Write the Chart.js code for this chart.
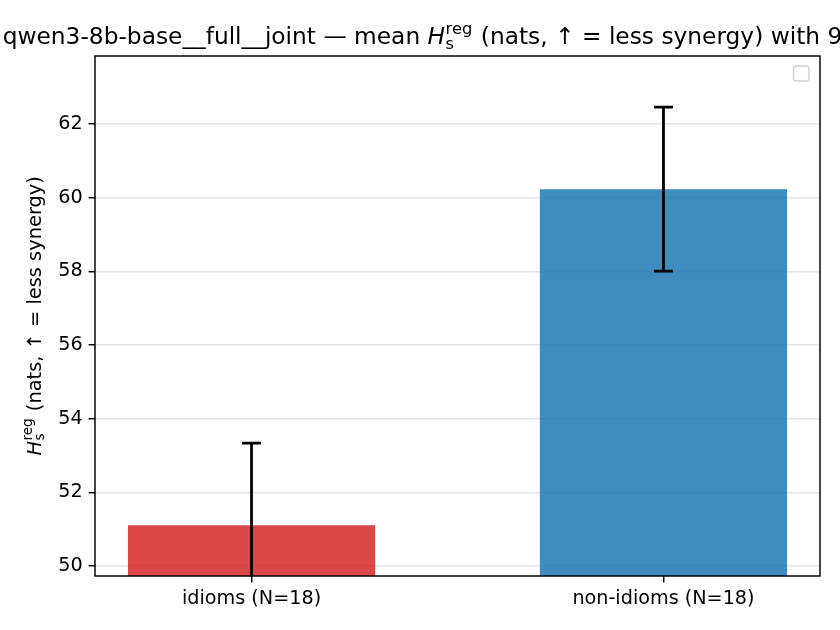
<!DOCTYPE html>
<html>
<head>
<meta charset="utf-8">
<script src="https://cdn.jsdelivr.net/npm/chart.js@4"></script>
<style>
  html, body { margin: 0; padding: 0; background: #fff; }
  #wrap { width: 840px; height: 630px; position: relative; }
</style>
</head>
<body>
<div id="wrap"><canvas id="c"></canvas></div>
<script>
const categories = ['idioms (N=18)', 'non-idioms (N=18)'];
const means = [51.11, 60.235];
const ciHalf = [2.23, 2.225];
const barColors = ['rgba(214,39,40,0.85)', 'rgba(31,119,180,0.85)'];
const yTicks = [50, 52, 54, 56, 58, 60, 62];
const yMin = 49.73, yMax = 63.85;
const xMin = -0.38, xMax = 1.38;

const FONT = 'DejaVu Sans';

function drawMathLabel(ctx, x, y, size, parts, align) {
  const [pre, post] = parts;
  const small = size * 0.7;
  ctx.font = `${size}px "${FONT}"`;
  const wPre = ctx.measureText(pre).width;
  const wPost = ctx.measureText(post).width;
  ctx.font = `italic ${size}px "${FONT}"`;
  const wH = ctx.measureText('H').width;
  ctx.font = `${small}px "${FONT}"`;
  const wSup = ctx.measureText('reg').width;
  const wSub = ctx.measureText('s').width;
  const wSS = Math.max(wSup, wSub) + size * 0.05;
  const total = wPre + wH + wSS + wPost;
  let cx = align === 'center' ? x - total / 2 : x;
  ctx.textBaseline = 'alphabetic';
  ctx.textAlign = 'left';
  ctx.fillStyle = '#000';
  ctx.font = `${size}px "${FONT}"`;
  ctx.fillText(pre, cx, y); cx += wPre;
  ctx.font = `italic ${size}px "${FONT}"`;
  ctx.fillText('H', cx, y); cx += wH + size * 0.02;
  ctx.font = `${small}px "${FONT}"`;
  ctx.fillText('reg', cx, y - size * 0.42);
  ctx.fillText('s', cx, y + size * 0.2);
  cx += wSS;
  ctx.font = `${size}px "${FONT}"`;
  ctx.fillText(post, cx, y);
}

const decor = {
  id: 'decor',
  afterDraw(chart) {
    const { ctx, chartArea: a, scales } = chart;
    const xs = scales.x, ys = scales.y;
    ctx.save();
    ctx.beginPath();
    ctx.rect(a.left, a.top, a.right - a.left, a.bottom - a.top);
    ctx.clip();
    ctx.strokeStyle = '#000';
    ctx.lineWidth = 2.8;
    means.forEach((m, i) => {
      const px = xs.getPixelForValue(i);
      const yTop = ys.getPixelForValue(m + ciHalf[i]);
      const yBot = ys.getPixelForValue(m - ciHalf[i]);
      ctx.beginPath();
      ctx.moveTo(px, yTop); ctx.lineTo(px, yBot);
      ctx.moveTo(px - 9.5, yTop); ctx.lineTo(px + 9.5, yTop);
      ctx.moveTo(px - 9.5, yBot); ctx.lineTo(px + 9.5, yBot);
      ctx.stroke();
    });
    ctx.restore();
    ctx.save();
    ctx.strokeStyle = '#000';
    ctx.lineWidth = 1.46;
    ctx.strokeRect(a.left, a.top, a.right - a.left, a.bottom - a.top);
    ctx.strokeStyle = 'rgba(204,204,204,0.9)';
    ctx.lineWidth = 1.4;
    ctx.beginPath();
    ctx.roundRect(a.right - 26.5, a.top + 10, 15.5, 15, 3);
    ctx.stroke();
    ctx.restore();
    ctx.save();
    drawMathLabel(ctx, (a.left + a.right) / 2 - 1.5, 44, 23.3,
      ['qwen3-8b-base__full__joint \u2014 mean ', ' (nats, \u2191 = less synergy) with 95% CI'], 'center');
    ctx.restore();
    ctx.save();
    ctx.translate(40.5, (a.top + a.bottom) / 2);
    ctx.rotate(-Math.PI / 2);
    drawMathLabel(ctx, 0, 0, 19.4, ['', ' (nats, \u2191 = less synergy)'], 'center');
    ctx.restore();
  }
};

new Chart(document.getElementById('c'), {
  type: 'bar',
  data: {
    datasets: [{
      data: means.map((m, i) => ({ x: i, y: m })),
      backgroundColor: barColors,
      borderWidth: 0,
      barPercentage: 0.6,
      categoryPercentage: 1.0
    }]
  },
  options: {
    responsive: true,
    maintainAspectRatio: false,
    animation: false,
    devicePixelRatio: 1,
    layout: { padding: { top: 56, right: 20, left: 0, bottom: 0 } },
    plugins: { legend: { display: false }, title: { display: false }, tooltip: { enabled: false } },
    scales: {
      x: {
        type: 'linear',
        min: xMin, max: xMax,
        offset: false,
        afterBuildTicks: (s) => { s.ticks = categories.map((_, i) => ({ value: i })); },
        afterFit: (s) => { s.height = 54; },
        ticks: {
          callback: (v) => categories[v],
          font: { family: FONT, size: 19.2 },
          color: '#000',
          padding: 5,
          maxRotation: 0, autoSkip: false
        },
        grid: { offset: false, drawOnChartArea: false, drawTicks: true, tickLength: 6.4, tickColor: '#000', lineWidth: 1.46 },
        border: { display: false }
      },
      y: {
        min: yMin, max: yMax,
        z: 1,
        afterBuildTicks: (s) => { s.ticks = yTicks.map(v => ({ value: v })); },
        afterFit: (s) => { s.width = 95; },
        ticks: {
          font: { family: FONT, size: 19.2 },
          color: '#000',
          padding: 6,
          callback: (v) => String(v)
        },
        grid: { color: 'rgba(176,176,176,0.32)', lineWidth: 1.46, tickLength: 6.4, tickColor: '#000' },
        border: { display: false }
      }
    }
  },
  plugins: [decor]
});
</script>
</body>
</html>
